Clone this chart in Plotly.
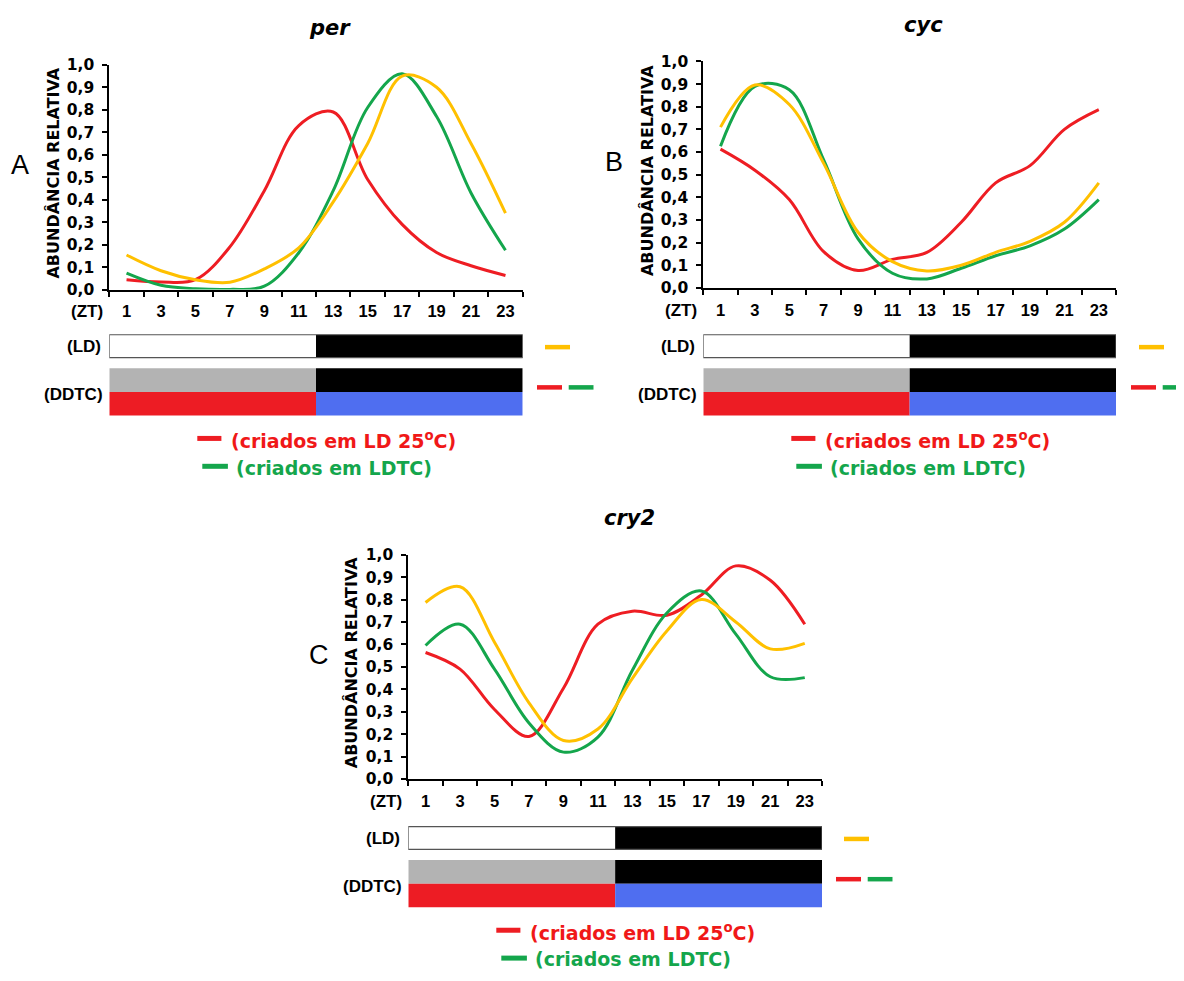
import plotly.graph_objects as go

W, H = 1184, 981
# the page body adds a default 8px margin around the figure
OX, OY = 8, 8

# ---------------- data ----------------
zt = [1, 3, 5, 7, 9, 11, 13, 15, 17, 19, 21, 23]
zt_labels = [str(v) for v in zt]
minor_ticks = [0, 2, 4, 6, 8, 10, 12, 14, 16, 18, 20, 22, 24]

# LD (yellow), DDTC reared in LD 25C (red), DDTC reared in LDTC (green)
per_ld = [0.154, 0.084, 0.044, 0.033, 0.092, 0.186, 0.39, 0.65, 0.95, 0.90, 0.65, 0.34]
per_ld25 = [0.044, 0.034, 0.044, 0.19, 0.44, 0.73, 0.79, 0.49, 0.29, 0.165, 0.106, 0.063]
per_ldtc = [0.073, 0.019, 0.004, 0.001, 0.015, 0.164, 0.44, 0.81, 0.96, 0.77, 0.43, 0.175]

cyc_ld = [0.71, 0.896, 0.81, 0.55, 0.246, 0.116, 0.075, 0.10, 0.157, 0.206, 0.29, 0.464]
cyc_ld25 = [0.613, 0.52, 0.39, 0.16, 0.077, 0.126, 0.157, 0.29, 0.464, 0.54, 0.70, 0.787]
cyc_ldtc = [0.626, 0.89, 0.875, 0.565, 0.217, 0.065, 0.04, 0.087, 0.142, 0.186, 0.26, 0.39]

cry2_ld = [0.787, 0.857, 0.61, 0.34, 0.172, 0.223, 0.449, 0.66, 0.80, 0.70, 0.58, 0.605]
cry2_ld25 = [0.564, 0.49, 0.31, 0.19, 0.405, 0.69, 0.748, 0.73, 0.82, 0.95, 0.886, 0.69]
cry2_ldtc = [0.595, 0.69, 0.49, 0.25, 0.12, 0.187, 0.485, 0.74, 0.838, 0.646, 0.456, 0.452]

light_phase = [0, 12]
dark_phase = [12, 24]

titles = ["per", "cyc", "cry2"]
panel_letters = ["A", "B", "C"]
y_title = "ABUNDÂNCIA RELATIVA"
legend_red = "(criados em LD 25<sup>o</sup>C)"
legend_green = "(criados em LDTC)"

# ---------------- styles ----------------
YELLOW = "#FFC000"
RED = "#EE1D23"
GREEN = "#14A64C"
BAR_RED = "#ED1C24"
BAR_BLUE = "#4F6EF0"
BAR_GRAY = "#B3B3B3"


def px(x):
    return (x - OX) / W


def py(y):
    return 1 - (y - OY) / H


# panel geometry in page pixels
panels = [
    dict(x0=109.3, x1=522.7, yt=56.7, yb=285.7, dx=0, dy=0, xa="x", ya="y"),
    dict(x0=703.3, x1=1116.0, yt=53.3, yb=284.0, dx=594, dy=0, xa="x2", ya="y2"),
    dict(x0=408.3, x1=822.0, yt=555.7, yb=784.3, dx=299, dy=501, xa="x3", ya="y3"),
]
series = [
    (per_ld25, per_ldtc, per_ld),
    (cyc_ld25, cyc_ldtc, cyc_ld),
    (cry2_ld25, cry2_ldtc, cry2_ld),
]

fig = go.Figure()
shapes = []
annotations = []

BOLD_DV = dict(family="DejaVu Sans", weight="bold", color="black")
BOLD_LS = dict(family="Liberation Sans", weight="bold", color="black")

for i, (p, (red, green, yellow)) in enumerate(zip(panels, series)):
    for vals, col in ((red, RED), (green, GREEN), (yellow, YELLOW)):
        fig.add_trace(go.Scatter(
            x=zt, y=vals, mode="lines", xaxis=p["xa"], yaxis=p["ya"],
            line=dict(color=col, width=3, shape="spline", smoothing=1.0),
            showlegend=False, hoverinfo="skip"))

    n = "" if i == 0 else str(i + 1)
    fig.layout["xaxis" + n] = dict(
        domain=[px(p["x0"]), px(p["x1"])], anchor=p["ya"], range=[0, 24],
        tickmode="array", tickvals=zt, ticktext=zt_labels, ticks="",
        minor=dict(tickmode="array", tickvals=minor_ticks, ticks="outside",
                   ticklen=5, tickwidth=1.5, tickcolor="black", showgrid=False),
        showline=True, linecolor="black", linewidth=2, showgrid=False,
        zeroline=False, tickfont=dict(size=16.5, **BOLD_LS), ticklabelstandoff=6,
    )
    fig.layout["yaxis" + n] = dict(
        domain=[py(p["yb"]), py(p["yt"])], anchor=p["xa"], range=[0, 1.0],
        tickmode="linear", tick0=0, dtick=0.1, tickformat=".1f",
        ticks="outside", ticklen=5, tickwidth=1.5, tickcolor="black",
        showline=True, linecolor="black", linewidth=2, showgrid=False,
        zeroline=False, tickfont=dict(size=15.5, **BOLD_DV), ticklabelstandoff=5,
    )

    dx, dy = p["dx"], p["dy"]
    xa = p["xa"]
    ld_t, ld_b = 331.7 + dy, 355 + dy
    dd_t, dd_m, dd_b = 365.7 + dy, 390 + dy, 414 + dy
    shapes += [
        dict(type="rect", xref=xa, yref="paper", x0=light_phase[0], x1=light_phase[1],
             y0=py(ld_b), y1=py(ld_t), fillcolor="white", line=dict(width=0), layer="above"),
        dict(type="rect", xref=xa, yref="paper", x0=dark_phase[0], x1=dark_phase[1],
             y0=py(ld_b), y1=py(ld_t), fillcolor="black", line=dict(width=0), layer="above"),
        dict(type="rect", xref=xa, yref="paper", x0=light_phase[0], x1=dark_phase[1],
             y0=py(ld_b), y1=py(ld_t), fillcolor="rgba(0,0,0,0)",
             line=dict(width=1.2, color="#555555"), layer="above"),
        dict(type="rect", xref=xa, yref="paper", x0=light_phase[0], x1=light_phase[1],
             y0=py(dd_m), y1=py(dd_t), fillcolor=BAR_GRAY, line=dict(width=0), layer="above"),
        dict(type="rect", xref=xa, yref="paper", x0=dark_phase[0], x1=dark_phase[1],
             y0=py(dd_m), y1=py(dd_t), fillcolor="black", line=dict(width=0), layer="above"),
        dict(type="rect", xref=xa, yref="paper", x0=light_phase[0], x1=light_phase[1],
             y0=py(dd_b), y1=py(dd_m), fillcolor=BAR_RED, line=dict(width=0), layer="above"),
        dict(type="rect", xref=xa, yref="paper", x0=dark_phase[0], x1=dark_phase[1],
             y0=py(dd_b), y1=py(dd_m), fillcolor=BAR_BLUE, line=dict(width=0), layer="above"),
    ]
    for (xa0, xa1, yy, col) in ((545, 570, 344.3, YELLOW), (537, 562, 385.3, RED),
                                (568.7, 593.5, 385.3, GREEN)):
        shapes.append(dict(type="line", xref="paper", yref="paper",
                           x0=px(xa0 + dx), x1=px(xa1 + dx), y0=py(yy + dy), y1=py(yy + dy),
                           line=dict(color=col, width=4.5)))
    shapes.append(dict(type="line", xref="paper", yref="paper",
                       x0=px(197.3 + dx), x1=px(221.4 + dx), y0=py(437.3 + dy), y1=py(437.3 + dy),
                       line=dict(color=RED, width=5)))
    shapes.append(dict(type="line", xref="paper", yref="paper",
                       x0=px(202.3 + dx), x1=px(227.9 + dx), y0=py(465.7 + dy), y1=py(465.7 + dy),
                       line=dict(color=GREEN, width=5)))

    annotations += [
        dict(text=legend_red, x=px(229 + dx), y=py(439 + dy), xref="paper", yref="paper",
             xanchor="left", yanchor="middle", showarrow=False,
             font=dict(family="DejaVu Sans", weight="bold", size=19, color="#F01818")),
        dict(text=legend_green, x=px(233.6 + dx), y=py(467 + dy), xref="paper", yref="paper",
             xanchor="left", yanchor="middle", showarrow=False,
             font=dict(family="DejaVu Sans", weight="bold", size=19, color="#14A64C")),
        dict(text="(LD)", x=px(103 + dx), y=py(344 + dy), xref="paper", yref="paper",
             xanchor="right", yanchor="middle", showarrow=False, font=dict(size=17, **BOLD_LS)),
        dict(text="(DDTC)", x=px(105 + dx), y=py(392.7 + dy), xref="paper", yref="paper",
             xanchor="right", yanchor="middle", showarrow=False, font=dict(size=17, **BOLD_LS)),
        dict(text="(ZT)", x=px(p["x0"] - 4), y=py(p["yb"] + 22.5), xref="paper", yref="paper",
             xanchor="right", yanchor="middle", showarrow=False, font=dict(size=17, **BOLD_LS)),
        dict(text=titles[i], x=px((p["x0"] + p["x1"]) / 2 + 14), y=py(p["yt"] - 37),
             xref="paper", yref="paper", xanchor="center", yanchor="middle", showarrow=False,
             font=dict(family="DejaVu Sans", weight="bold", style="italic", size=21, color="black")),
        dict(text=y_title, textangle=-90, x=px(p["x0"] - 56), y=py((p["yt"] + p["yb"]) / 2 - 4),
             xref="paper", yref="paper", xanchor="center", yanchor="middle", showarrow=False,
             font=dict(size=16, **BOLD_DV)),
        dict(text=panel_letters[i], x=px(p["x0"] - 89), y=py(p["yt"] + 102),
             xref="paper", yref="paper", xanchor="center", yanchor="middle", showarrow=False,
             font=dict(family="Liberation Sans", size=27, color="black")),
    ]

fig.update_layout(
    width=W, height=H, margin=dict(l=0, r=0, t=0, b=0),
    paper_bgcolor="white", plot_bgcolor="white",
    separators=",.", showlegend=False,
    shapes=shapes, annotations=annotations,
)

fig.write_html("out.html")
